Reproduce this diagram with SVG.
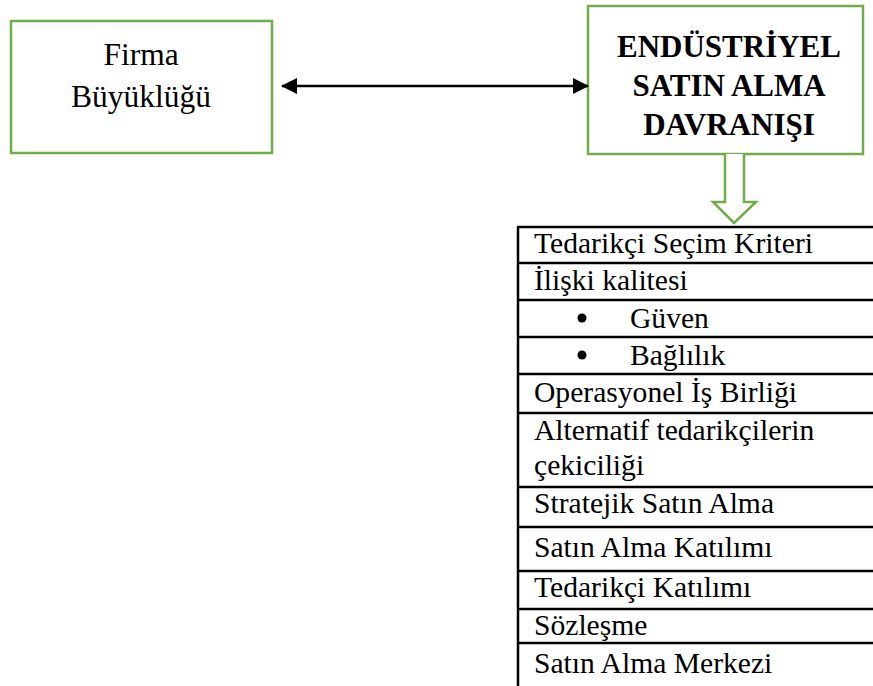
<svg xmlns="http://www.w3.org/2000/svg" width="873" height="686" viewBox="0 0 873 686">
  <style>
    .box { fill: #ffffff; stroke: #70ad47; stroke-width: 2.5; }
    .lbl { font-family: "Liberation Serif", "Times New Roman", serif; font-size: 31.5px; fill: #000; text-anchor: middle; }
    .ttl { font-family: "Liberation Serif", "Times New Roman", serif; font-size: 31px; font-weight: bold; fill: #000; text-anchor: middle; }
    .row { font-family: "Liberation Serif", "Times New Roman", serif; font-size: 29.6px; fill: #000; }
    .rule { stroke: #000; stroke-width: 2.5; }
    .link { stroke: #000; stroke-width: 2.5; fill: none; }
    .block { fill: #ffffff; stroke: #70ad47; stroke-width: 2.5; stroke-linejoin: miter; }
  </style>
  <defs>
    <marker id="head" viewBox="0 0 16 16" refX="15" refY="8" markerWidth="16" markerHeight="16" markerUnits="userSpaceOnUse" orient="auto-start-reverse">
      <path d="M0,0 L16,8 L0,16 Z" fill="#000"/>
    </marker>
  </defs>

  <!-- firm size node -->
  <g id="firma">
    <rect class="box" x="11" y="21" width="261" height="132"/>
    <text class="lbl" x="141" y="65">Firma</text>
    <text class="lbl" x="141" y="107">Büyüklüğü</text>
  </g>

  <!-- industrial buying behaviour node -->
  <g id="davranis">
    <rect class="box" x="588" y="6" width="275" height="148"/>
    <text class="ttl" x="729" y="57">ENDÜSTRİYEL</text>
    <text class="ttl" x="729" y="96">SATIN ALMA</text>
    <text class="ttl" x="729" y="135">DAVRANIŞI</text>
  </g>

  <!-- connectors -->
  <g id="connectors">
    <line class="link" x1="282" y1="86" x2="588" y2="86" marker-start="url(#head)" marker-end="url(#head)"/>
    <path class="block" d="M725,154 L725,202 L713,202 L734,223 L756,202 L744,202 L744,154"/>
  </g>

  <!-- list of dimensions -->
  <g id="liste">
    <line class="rule" x1="518" y1="227" x2="518" y2="686"/>
    <line class="rule" x1="517" y1="227" x2="873" y2="227"/>
    <line class="rule" x1="517" y1="263" x2="873" y2="263"/>
    <line class="rule" x1="517" y1="300" x2="873" y2="300"/>
    <line class="rule" x1="517" y1="337" x2="873" y2="337"/>
    <line class="rule" x1="517" y1="374" x2="873" y2="374"/>
    <line class="rule" x1="517" y1="413" x2="873" y2="413"/>
    <line class="rule" x1="517" y1="487" x2="873" y2="487"/>
    <line class="rule" x1="517" y1="527" x2="873" y2="527"/>
    <line class="rule" x1="517" y1="571" x2="873" y2="571"/>
    <line class="rule" x1="517" y1="609" x2="873" y2="609"/>
    <line class="rule" x1="517" y1="643" x2="873" y2="643"/>

    <text class="row" x="534" y="253">Tedarikçi Seçim Kriteri</text>
    <text class="row" x="534" y="290">İlişki kalitesi</text>
    <circle cx="582" cy="318" r="4.5" fill="#000"/>
    <text class="row" x="630" y="328">Güven</text>
    <circle cx="582" cy="355" r="4.5" fill="#000"/>
    <text class="row" x="630" y="365">Bağlılık</text>
    <text class="row" x="534" y="402">Operasyonel İş Birliği</text>
    <text class="row" x="534" y="440">Alternatif tedarikçilerin</text>
    <text class="row" x="534" y="475">çekiciliği</text>
    <text class="row" x="534" y="513">Stratejik Satın Alma</text>
    <text class="row" x="534" y="557">Satın Alma Katılımı</text>
    <text class="row" x="534" y="597">Tedarikçi Katılımı</text>
    <text class="row" x="534" y="635">Sözleşme</text>
    <text class="row" x="534" y="673">Satın Alma Merkezi</text>
  </g>
</svg>
